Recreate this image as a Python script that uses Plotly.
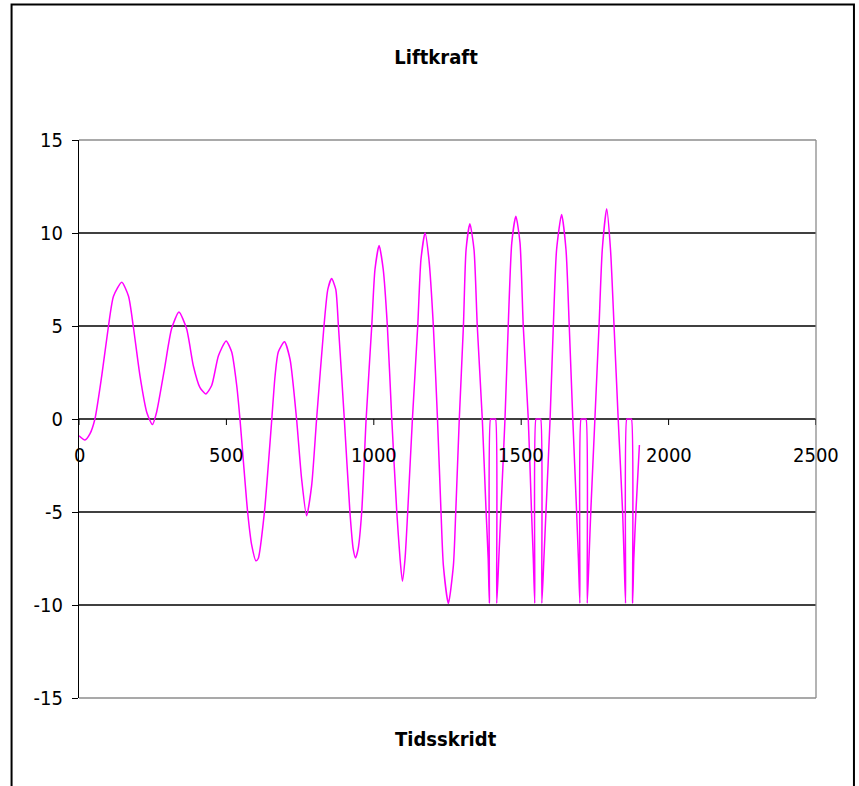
import plotly.graph_objects as go

# ---- data ----
tidsskridt = [
    0, 20, 37, 54, 77, 100, 117, 145, 168, 184, 207, 230, 249, 263, 290, 314, 339, 365, 388, 410,
    430, 450, 473, 499, 518, 535, 546, 557, 572, 586, 600, 608, 629, 642, 654, 665, 676, 697, 716, 738,
    755, 772, 789, 806, 831, 844, 857, 871, 880, 900, 919, 930, 938, 947, 959, 974, 993, 1004, 1018, 1032,
    1046, 1061, 1078, 1089, 1097, 1106, 1115, 1131, 1149, 1160, 1174, 1187, 1202, 1216, 1228, 1236, 1253, 1270, 1278, 1290,
    1304, 1313, 1326, 1340, 1351, 1368, 1381, 1388, 1392, 1396, 1400, 1405, 1409, 1413, 1417, 1424, 1431, 1445, 1456, 1468,
    1482, 1496, 1507, 1524, 1535, 1541, 1546, 1550, 1554, 1558, 1562, 1566, 1570, 1577, 1584, 1598, 1609, 1620, 1637, 1652,
    1663, 1675, 1688, 1694, 1699, 1703, 1707, 1712, 1716, 1720, 1724, 1730, 1736, 1750, 1764, 1775, 1790, 1803, 1815, 1829,
    1844, 1849, 1854, 1858, 1862, 1866, 1870, 1874, 1878, 1882, 1889, 1901,
]
liftkraft = [
    -0.9, -1.13, -0.8, 0.0, 2.3, 5.0, 6.6, 7.35, 6.6, 5.0, 2.3, 0.35, -0.3, 0.35, 2.7, 4.85, 5.75, 4.85, 2.85, 1.7,
    1.35, 1.8, 3.4, 4.2, 3.6, 1.8, 0.0, -2.15, -5.0, -6.8, -7.62, -7.5, -5.0, -2.5, 0.0, 2.3, 3.6, 4.15, 3.2, 0.0,
    -3.2, -5.2, -3.6, 0.0, 5.0, 6.97, 7.55, 6.97, 5.0, 0.0, -5.0, -6.97, -7.47, -6.97, -5.0, 0.0, 5.0, 8.04, 9.33, 8.04,
    5.0, 0.0, -5.0, -7.5, -8.72, -7.5, -5.0, 0.0, 5.0, 8.58, 10.0, 8.58, 5.0, 0.0, -5.0, -7.87, -9.92, -7.87, -5.0, 0.0,
    5.0, 9.1, 10.5, 9.1, 5.0, 0.0, -5.0, -7.5, -9.9, 0.0, 0.0, 0.0, 0.0, 0.0, -9.9, -7.5, -5.0, 0.0, 5.0, 9.47,
    10.9, 9.47, 5.0, 0.0, -5.0, -7.5, -9.9, 0.0, 0.0, 0.0, 0.0, 0.0, -9.9, -7.5, -5.0, 0.0, 5.0, 9.1, 11.0, 9.1,
    5.0, 0.0, -5.0, -7.5, -9.9, 0.0, 0.0, 0.0, 0.0, 0.0, -9.9, -7.5, -5.0, 0.0, 5.0, 9.1, 11.3, 9.1, 5.0, 0.0,
    -5.0, -7.5, -9.9, 0.0, 0.0, 0.0, 0.0, 0.0, -9.9, -7.5, -5.0, -1.4,
]

x_ticks = [0, 500, 1000, 1500, 2000, 2500]
y_ticks = [-15, -10, -5, 0, 5, 10, 15]
y_grid = [-10, -5, 0, 5, 10]

FONT = "Liberation Sans Narrow, Arial Narrow, DejaVu Sans Condensed, sans-serif"

fig = go.Figure()
fig.add_trace(go.Scatter(
    x=tidsskridt, y=liftkraft, mode="lines",
    line=dict(color="#FF00FF", width=1.5, shape="spline", smoothing=0.6),
    showlegend=False, hoverinfo="skip",
))

shapes = []
for v in y_grid:
    shapes.append(dict(type="line", xref="x domain", yref="y", x0=0, x1=1, y0=v, y1=v,
                       line=dict(color="#000000", width=1.3), layer="below"))
for (x0, y0, x1, y1) in [(0, 1, 1, 1), (1, 0, 1, 1), (0, 0, 1, 0)]:
    shapes.append(dict(type="line", xref="x domain", yref="y domain", x0=x0, x1=x1, y0=y0, y1=y1,
                       line=dict(color="#8c8c8c", width=1.3), layer="below"))
for v in x_ticks:
    shapes.append(dict(type="line", xref="x", yref="y", xsizemode="scaled", ysizemode="pixel",
                       yanchor=0, x0=v, x1=v, y0=0, y1=-6,
                       line=dict(color="#000000", width=1)))
shapes.append(dict(type="rect", xref="paper", yref="paper", x0=-0.0915, x1=1.0515, y0=-0.25, y1=1.243,
                   line=dict(color="#000000", width=2), fillcolor="rgba(0,0,0,0)"))

annotations = []
for v in x_ticks:
    annotations.append(dict(x=v, y=0, xref="x", yref="y", text=str(v), showarrow=False,
                            yanchor="middle", xanchor="center", yshift=-36,
                            font=dict(family=FONT, size=20, color="#000000")))
annotations.append(dict(x=0.498, y=-0.074, xref="paper", yref="paper", text="<b>Tidsskridt</b>",
                        showarrow=False, xanchor="center", yanchor="middle",
                        font=dict(family=FONT, size=20, color="#000000")))

fig.update_layout(
    width=859, height=786, autosize=False,
    margin=dict(l=79, r=43, t=140, b=88),
    paper_bgcolor="#ffffff", plot_bgcolor="#ffffff",
    title=dict(text="<b>Liftkraft</b>", x=0.5076, xanchor="center", y=0.9275, yanchor="middle",
               font=dict(family=FONT, size=20, color="#000000")),
    shapes=shapes, annotations=annotations,
    xaxis=dict(range=[0, 2500], showticklabels=False, showgrid=False, zeroline=False,
               showline=False, ticks=""),
    yaxis=dict(range=[-15, 15], tickvals=y_ticks, ticktext=[str(v) for v in y_ticks],
               showgrid=False, zeroline=False, showline=True, linecolor="#000000", linewidth=1.3,
               ticks="outside", ticklen=6, tickcolor="#000000", tickwidth=1,
               ticklabelstandoff=5,
               tickfont=dict(family=FONT, size=20, color="#000000")),
)

fig.write_html("out.html")
